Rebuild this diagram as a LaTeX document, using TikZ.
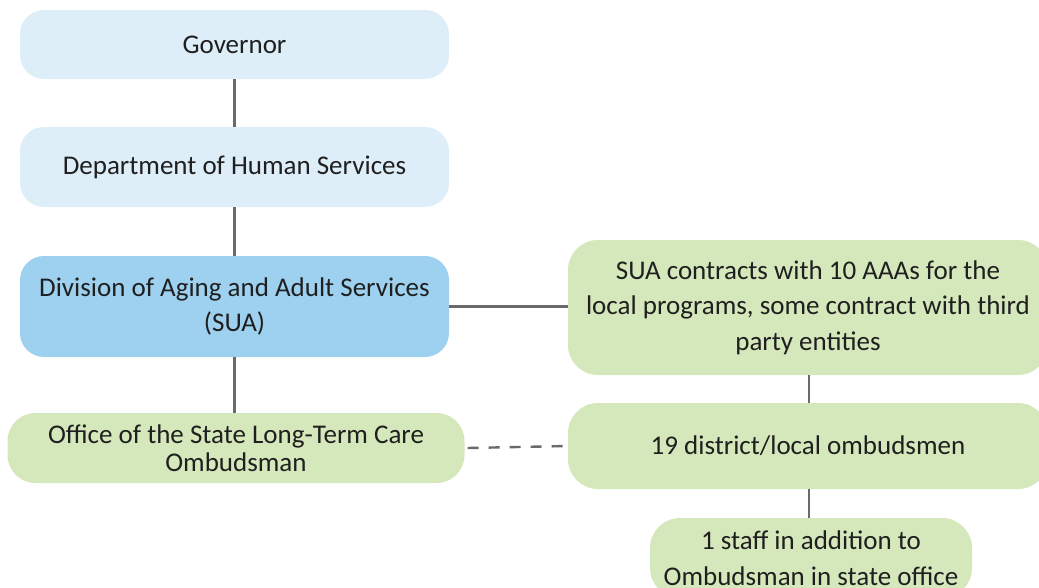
\documentclass[tikz,border=0pt]{standalone}
\usepackage{fontspec}
\setmainfont{Carlito}
\begin{document}
\begin{tikzpicture}[x=1pt,y=-1pt,
  box/.style={rounded corners=24pt, inner sep=0pt, align=center,
    font=\fontsize{27}{35.5}\selectfont, text=black!88},
  lblue/.style={box, fill=lightblue},
  mblue/.style={box, fill=midblue},
  green/.style={box, fill=lgreen},
  link/.style={draw=linegray, line width=2.4pt}]
\definecolor{lightblue}{HTML}{DEEEF9}
\definecolor{midblue}{HTML}{9DD1EF}
\definecolor{lgreen}{HTML}{D5E8BB}
\definecolor{linegray}{HTML}{6A6A6A}
\useasboundingbox (0,0) rectangle (1039,587);
\clip (0,0) rectangle (1039,587);
\node[lblue, minimum width=429pt, minimum height=69pt] (gov) at (234.5,44.5) {Governor};
\node[lblue, minimum width=429pt, minimum height=80pt] (dhs) at (234.5,167) {Department of Human Services};
\node[mblue, minimum width=429pt, minimum height=101pt] (sua) at (234.5,306.5) {Division of Aging and Adult Services\\(SUA)};
\node[green, minimum width=457pt, minimum height=70pt, rounded corners=28pt,
  font=\fontsize{27}{28}\selectfont] (ltc) at (236,448) {Office of the State Long-Term Care\\Ombudsman};
\node[green, minimum width=480pt, minimum height=135pt, rounded corners=30pt] (aaa) at (808,307.5) {SUA contracts with 10 AAAs for the\\local programs, some contract with third\\party entities};
\node[green, minimum width=480pt, minimum height=86pt, rounded corners=30pt] (dist) at (808,446) {19 district/local ombudsmen};
\node[green, minimum width=322pt, minimum height=80pt, rounded corners=30pt] (staff) at (811,558) {1 staff in addition to\\Ombudsman in state office};
\draw[link] (gov) -- (dhs);
\draw[link] (dhs) -- (sua);
\draw[link] (sua) -- (ltc.north -| sua);
\draw[link] (sua.east) -- (sua.east -| aaa.west);
\draw[link] (aaa.south -| 809,0) -- (dist.north -| 809,0);
\draw[link] (dist.south -| 809,0) -- (staff.north -| 809,0);
\draw[link, dash pattern=on 11pt off 10pt] (ltc.east) ++(3pt,0) -- (dist.west);
\end{tikzpicture}
\end{document}
